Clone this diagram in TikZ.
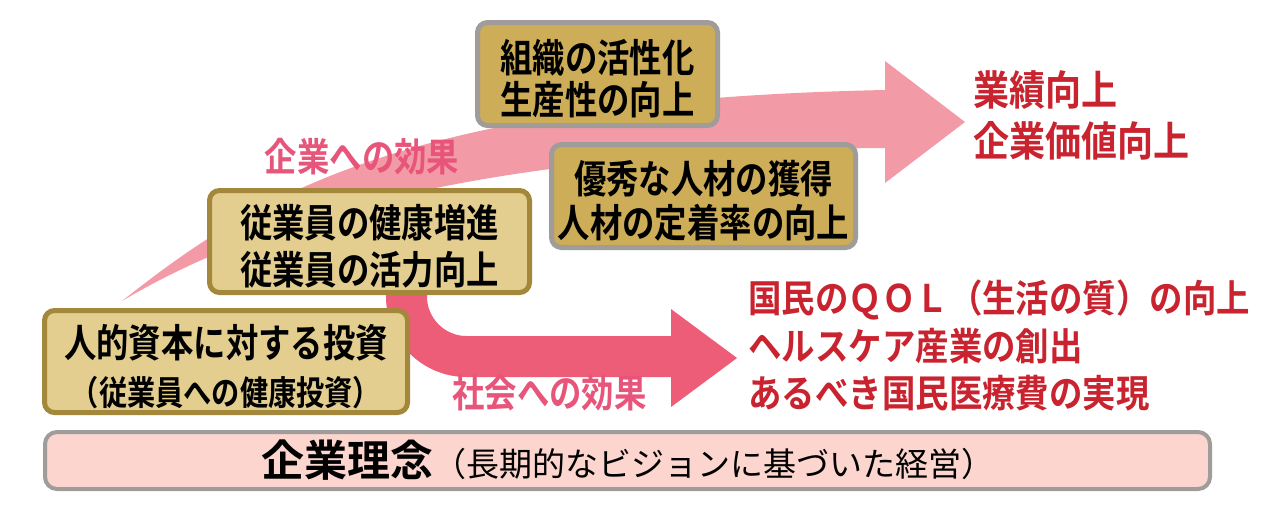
\documentclass[tikz,border=0pt]{standalone}
\usepackage{fontspec}
\newfontfamily\jpb{Noto Sans CJK JP Bold}[FakeStretch=0.83]
\newfontfamily\jpbw{Noto Sans CJK JP Bold}[FakeStretch=0.88]
\newfontfamily\jpbn{Noto Sans CJK JP Bold}
\newfontfamily\jpr{Noto Sans CJK JP}
\newcommand\topstrut{\rule{0pt}{21.5pt}}
\definecolor{goldfill}{HTML}{CDAD57}
\definecolor{tanfill}{HTML}{E3CE8F}
\definecolor{goldborder}{HTML}{A3873A}
\definecolor{grayborder}{HTML}{A09C9A}
\definecolor{barfill}{HTML}{FBD5CE}
\definecolor{pinkup}{HTML}{F39AA7}
\definecolor{pinkdown}{HTML}{EE5D77}
\definecolor{labelpink}{HTML}{E8557A}
\definecolor{resred}{HTML}{C9232F}
\tikzset{
  goldbox/.style={draw=grayborder, fill=goldfill, line width=2.5pt, rounded corners=5pt,
    inner sep=0pt, align=center, text=black},
  tanbox/.style={draw=goldborder, fill=tanfill, line width=2.5pt, rounded corners=5pt,
    inner sep=0pt, align=center, text=black},
  restext/.style={text=resred, align=left, anchor=west, inner sep=0pt},
  effect/.style={text=labelpink, inner sep=0pt, font=\jpb\fontsize{19.5}{19.5}\selectfont},
}
\begin{document}
\begin{tikzpicture}[x=0.5pt,y=-0.5pt]
\useasboundingbox (0,0) rectangle (1268,509);
\fill[white] (0,0) rectangle (1268,509);
% upper (company) arrow
\coordinate (upstart) at (122,301);
\coordinate (uptip) at (965,122);
\fill[pinkup] (upstart) .. controls (250,200) and (400,100) .. (885,90) -- (885,61) -- (uptip)
  -- (885,183) -- (885,148) .. controls (560,150) and (300,195) .. (upstart) -- cycle;
% lower (society) arrow
\coordinate (lowstart) at (406.5,250);
\coordinate (lowbend) at (406.5,356.5);
\coordinate (lowend) at (676,356.5);
\coordinate (lowtip) at (737,358);
\draw[pinkdown, line width=20.5pt, rounded corners=30pt] (lowstart) -- (lowbend) -- (lowend);
\fill[pinkdown] (671,309) -- (lowtip) -- (671,407) -- cycle;
% boxes
\node[goldbox, minimum width=120pt, minimum height=51.5pt,
  font=\jpb\fontsize{19.5}{21}\selectfont] (org) at (597.5,74) {\topstrut 組織の活性化\\生産性の向上};
\node[goldbox, minimum width=152pt, minimum height=51.5pt,
  font=\jpb\fontsize{19.5}{22}\selectfont] (talent) at (703.5,196) {\topstrut 優秀な人材の獲得\\人材の定着率の向上};
\node[tanbox, minimum width=160pt, minimum height=51pt,
  font=\jpb\fontsize{19.5}{23.5}\selectfont] (health) at (369.5,241.5) {\topstrut 従業員の健康増進\\従業員の活力向上};
\node[tanbox, minimum width=181.5pt, minimum height=51pt,
  font=\jpb\fontsize{19.5}{24}\selectfont] (invest) at (226,361.5)
  {\topstrut 人的資本に対する投資\\{\fontsize{17}{24}\selectfont （従業員への健康投資）}};
% effect labels
\node[effect] (eff1) at (362,157) {企業への効果};
\node[effect] (eff2) at (549.5,393) {社会への効果};
% results
\node[restext, font=\jpbw\fontsize{20.5}{25.5}\selectfont] (res1) at (973,115.5) {業績向上\\企業価値向上};
\node[restext, font=\jpbw\fontsize{19}{23.75}\selectfont] (res2) at (748,345.5)
  {国民のＱＯＬ（生活の質）の向上\\ヘルスケア産業の創出\\あるべき国民医療費の実現};
% base bar
\node[draw=grayborder, fill=barfill, line width=2pt, rounded corners=6pt,
  minimum width=582.5pt, minimum height=28.5pt, inner sep=0pt] (bar) at (627.5,460.5)
  {{\jpbn\fontsize{21.5}{22}\selectfont 企業理念}{\jpr\fontsize{16.5}{22}\selectfont （長期的なビジョンに基づいた経営）}};
\end{tikzpicture}
\end{document}
